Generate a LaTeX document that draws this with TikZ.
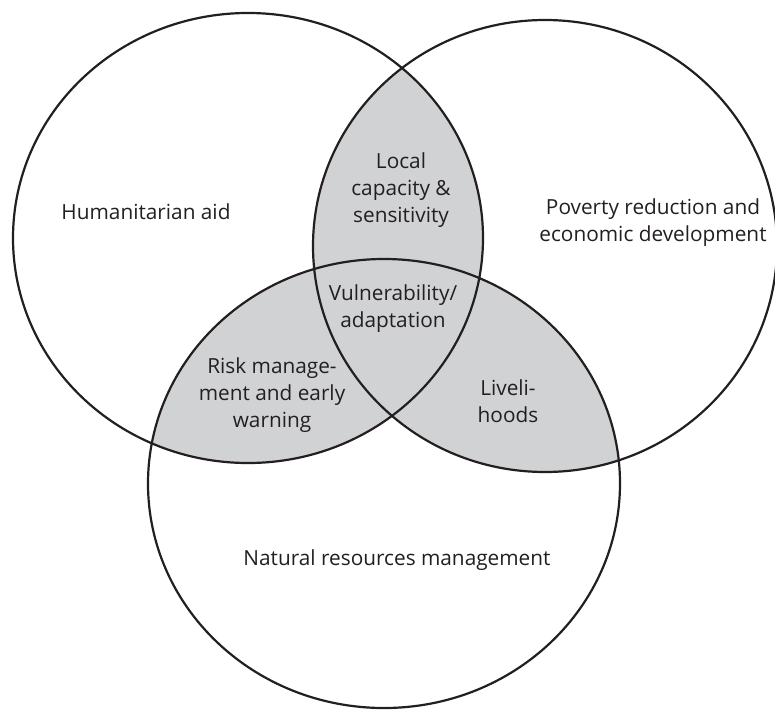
\documentclass[tikz,border=0pt]{standalone}
\usepackage{fontspec}
\setmainfont{Open Sans}
\definecolor{lapfill}{HTML}{D1D2D4}
\definecolor{inkline}{HTML}{231F20}
\begin{document}
\begin{tikzpicture}[x=1pt,y=-1pt,
  setline/.style={draw=inkline,line width=2.2pt},
  setlabel/.style={align=center,text=inkline,font=\fontsize{20.8}{27}\selectfont,inner sep=0pt}]
\useasboundingbox (0,0) rectangle (775,709);
% the three sets
\def\humpath{(248,238) ellipse [x radius=235,y radius=225]}
\def\povpath{(545,246) ellipse [x radius=232,y radius=226]}
\def\natpath{(384,483.5) ellipse [x radius=236,y radius=224.5]}
% shaded overlaps
\begin{scope}
  \clip \humpath; \fill[lapfill] \povpath;
\end{scope}
\begin{scope}
  \clip \humpath; \fill[lapfill] \natpath;
\end{scope}
\begin{scope}
  \clip \povpath; \fill[lapfill] \natpath;
\end{scope}
% outlines
\draw[setline] \humpath;
\draw[setline] \povpath;
\draw[setline] \natpath;
% labels
\node[setlabel] (hum) at (146,212) {Humanitarian aid};
\node[setlabel] (pov) at (653,223) {Poverty reduction and\\economic development};
\node[setlabel] (nat) at (397,560) {Natural resources management};
\node[setlabel] (loc) at (401,190) {Local\\capacity \&\\sensitivity};
\node[setlabel] (vul) at (393,309) {Vulnerability/\\adaptation};
\node[setlabel] (risk) at (272,395) {Risk manage-\\ment and early\\warning};
\node[setlabel] (liv) at (508,401) {Liveli-\\hoods};
\end{tikzpicture}
\end{document}
